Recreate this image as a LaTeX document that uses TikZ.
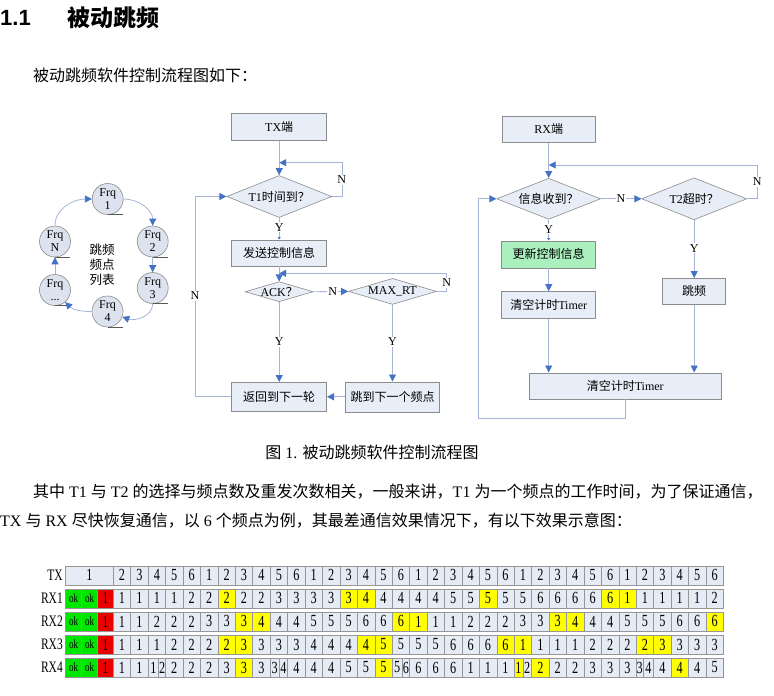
\documentclass[tikz,border=0pt]{standalone}
\usepackage{fontspec}
\setmainfont{Liberation Serif}
\newfontfamily\cjk{Noto Sans CJK SC}
\newfontfamily\headsf{Liberation Sans}
\newfontfamily\tabfont{Liberation Serif}[FakeStretch=0.72]
\usetikzlibrary{arrows.meta, shapes.geometric}

\newcommand{\zh}[1]{{\cjk #1}}

\definecolor{boxfill}{RGB}{232,238,247}
\definecolor{boxline}{RGB}{140,140,140}
\definecolor{flowline}{RGB}{165,180,215}
\definecolor{arrowblue}{RGB}{68,114,196}
\definecolor{updfill}{RGB}{170,240,190}
\definecolor{frqfill}{RGB}{220,227,238}
\definecolor{cellfill}{RGB}{230,236,246}
\definecolor{cellline}{RGB}{150,150,150}
\definecolor{okgreen}{RGB}{0,230,0}
\definecolor{badred}{RGB}{235,0,0}
\definecolor{hityellow}{RGB}{255,255,0}

\tikzset{
  txt/.style={inner sep=0pt, anchor=west},
  box/.style={rectangle, draw=boxline, fill=boxfill, line width=0.6pt, minimum width=95pt, minimum height=27pt, inner sep=0pt},
  decision/.style={diamond, draw=boxline, fill=boxfill, line width=0.6pt, inner sep=0pt},
  frq/.style={circle, draw=boxline, fill=frqfill, line width=0.6pt, minimum size=31pt, inner sep=0pt, align=center, font=\fontsize{12}{13}\selectfont},
  frqshadow/.style={draw=black!65, line width=0.7pt},
  flow/.style={draw=flowline, line width=0.8pt, -{Triangle[length=7pt, width=7pt, color=arrowblue]}},
  smallflow/.style={draw=flowline, line width=0.8pt, -{Triangle[length=2.5pt, width=3pt, color=arrowblue]}},
  yn/.style={fill=white, inner sep=1pt},
  cell/.style={rectangle, draw=cellline, line width=0.5pt, fill=cellfill, minimum width=17.43pt, minimum height=19pt, inner sep=0pt, font=\tabfont\fontsize{17}{17}\selectfont},
  oktag/.style={cell, fill=okgreen, minimum width=15.87pt, font=\tabfont\fontsize{12.5}{12.5}\selectfont},
  rowlbl/.style={anchor=east, inner sep=0pt, font=\tabfont\fontsize{16}{16}\selectfont}
}

\begin{document}
\begin{tikzpicture}[x=1pt, y=1pt, font=\fontsize{12}{14}\selectfont]
  \path[use as bounding box, fill=white] (0,0) rectangle (774,-696);

  % Heading and text:
  \node[txt, font=\headsf\bfseries\fontsize{22}{24}\selectfont] (secnum) at (0,-18) {1.1};
  \node[txt, font=\fontsize{23}{24}\selectfont] (sectitle) at (67,-18) {\zh{\bfseries 被动跳频}};
  \node[txt, font=\fontsize{16}{18}\selectfont] (intro) at (33,-75) {\zh{被动跳频软件控制流程图如下：}};
  \node[inner sep=0pt, font=\fontsize{16}{18}\selectfont] (caption) at (372,-452) {\zh{图} 1. \zh{被动跳频软件控制流程图}};
  \node[txt, font=\fontsize{16}{18}\selectfont] (para1) at (33,-492) {\zh{其中} T1 \zh{与} T2 \zh{的选择与频点数及重发次数相关，一般来讲，}T1 \zh{为一个频点的工作时间，为了保证通信，}};
  \node[txt, font=\fontsize{16}{18}\selectfont] (para2) at (0,-521) {TX \zh{与} RX \zh{尽快恢复通信，以} 6 \zh{个频点为例，其最差通信效果情况下，有以下效果示意图：}};

  % Frequency ring:
  \node[frq] (f1) at (107.7,-199) {Frq\\1};
  \node[frq] (f2) at (152.7,-241.5) {Frq\\2};
  \node[frq] (f3) at (152.7,-288) {Frq\\3};
  \node[frq] (f4) at (107.5,-311.5) {Frq\\4};
  \node[frq] (fdots) at (55,-290) {Frq\\...};
  \node[frq] (fn) at (55,-241.5) {Frq\\N};
  \foreach \f in {f1,f2,f3,f4,fdots,fn}
    \draw[frqshadow] (\f.south) -- ++(15,0);
  \node[align=center, font=\fontsize{12.5}{15}\selectfont] (hoplist) at (102,-265) {\zh{跳频}\\\zh{频点}\\\zh{列表}};
  \draw[flow] (fn.north) to[out=90, in=180] (f1.west);
  \draw[flow] (f1.east) to[out=0, in=90] (f2.north);
  \draw[flow] (f2.south) -- (f3.north);
  \draw[flow] (f3.south) to[out=-90, in=-20] (f4.-20);
  \draw[flow] (f4.west) to[out=180, in=-45] (fdots.-50);
  \draw[flow] (fdots.north) -- (fn.south);

  % TX side:
  \node[box] (tx) at (279.2,-126.7) {TX\zh{端}};
  \node[decision, minimum width=105pt, minimum height=42pt, label=center:{T1\zh{时间到？}}] (t1) at (279.2,-196.5) {};
  \node[box, minimum height=26pt] (send) at (279.2,-252.8) {\zh{发送控制信息}};
  \node[decision, minimum width=68pt, minimum height=20pt, label=center:{ACK\zh{？}}] (ack) at (279.2,-291.7) {};
  \node[decision, minimum width=88pt, minimum height=26pt, label=center:{MAX\_RT}] (maxrt) at (392.5,-291.4) {};
  \node[box, minimum height=29pt] (back) at (279.2,-396.8) {\zh{返回到下一轮}};
  \node[box, minimum width=94pt, minimum height=30pt] (jump) at (392.5,-396.8) {\zh{跳到下一个频点}};

  \coordinate (t1in) at (279.2,-162.7);
  \coordinate (ackin) at (279.2,-273.3);
  \coordinate (txloop) at (195,-396.8);
  \draw[flow] (tx.south) -- (t1.north);
  \draw[flow] (t1.east) -- ++(10,0) |- (t1in);
  \node[yn] (n1) at (341.7,-180) {N};
  \draw[smallflow] (t1.south) -- (send.north);
  \node[yn] (y1) at (279.2,-227.3) {Y};
  \draw[flow] (send.south) -- (ack.north);
  \draw[flow] (ack.east) -- (maxrt.west);
  \node[yn] (n2) at (332.7,-291.7) {N};
  \draw[flow] (maxrt.east) -- ++(10,0) |- (ackin);
  \node[yn] (n3) at (446.7,-282.7) {N};
  \draw[flow] (ack.south) -- (back.north);
  \node[yn] (y2) at (279.2,-341.7) {Y};
  \draw[flow] (maxrt.south) -- (jump.north);
  \node[yn] (y3) at (392.5,-341.7) {Y};
  \draw[flow] (jump.west) -- (back.east);
  \draw[flow] (back.west) -- (txloop) |- (t1.west);
  \node[yn] (n4) at (195,-296) {N};

  % RX side:
  \node[box, minimum width=93pt, minimum height=26pt] (rx) at (548.7,-129.2) {RX\zh{端}};
  \node[decision, minimum width=104pt, minimum height=41pt, label=center:{\zh{信息收到？}}] (recv) at (548.7,-198.8) {};
  \node[decision, minimum width=105pt, minimum height=42pt, label=center:{T2\zh{超时？}}] (t2) at (694.2,-198.8) {};
  \node[box, fill=updfill, minimum width=94pt] (upd) at (548.7,-254.3) {\zh{更新控制信息}};
  \node[box, minimum width=94pt] (clr1) at (548.7,-305) {\zh{清空计时}Timer};
  \node[box, minimum width=63pt, minimum height=26pt] (hop) at (694.2,-291.3) {\zh{跳频}};
  \node[box, minimum width=192pt, minimum height=26pt] (clr2) at (625.2,-385.8) {\zh{清空计时}Timer};

  \coordinate (recvin) at (548.7,-165);
  \coordinate (rxloop) at (478.3,-418);
  \draw[flow] (rx.south) -- (recv.north);
  \draw[flow] (t2.east) -- ++(10.6,0) |- (recvin);
  \node[yn] (n5) at (757.3,-181.7) {N};
  \draw[flow] (recv.east) -- (t2.west);
  \node[yn] (n6) at (621,-198.8) {N};
  \draw[smallflow] (recv.south) -- (upd.north);
  \node[yn] (y4) at (548.7,-229.3) {Y};
  \draw[flow] (upd.south) -- (clr1.north);
  \draw[flow] (t2.south) -- (hop.north);
  \node[yn] (y5) at (694.2,-248.3) {Y};
  \draw[flow] (clr1.south) -- (clr1.south |- clr2.north);
  \draw[flow] (hop.south) -- (hop.south |- clr2.north);
  \draw[flow] (clr2.south) |- (rxloop) |- (recv.west);

  % Table, TX row:
  \node[rowlbl] (lbl0) at (63,-575.3) {TX};
  \node[cell, minimum width=47.6pt] (r0-first) at (89.5,-575.3) {1};
  \foreach \k in {1,...,35} {
    \pgfmathtruncatemacro\tx{mod(\k,6)+1}
    \node[cell] (r0-c\k) at ({113.3+17.43*(\k-0.5)},-575.3) {\tx};
  }

  % RX rows: labels and first cells
  \foreach \r in {1,...,4} {
    \pgfmathsetmacro\ry{575.3+23.05*\r}
    \node[rowlbl] (lbl\r) at (63,-\ry) {RX\r};
    \node[oktag] (r\r-ok1) at (73.6,-\ry) {ok};
    \node[oktag] (r\r-ok2) at (89.5,-\ry) {ok};
    \node[oktag, fill=badred, font=\tabfont\fontsize{17}{17}\selectfont] (r\r-bad) at (105.4,-\ry) {1};
  }

  % RX1 to RX3, yellow where RX = TX
  \foreach \vals [count=\r] in {{1,1,1,1,2,2,2,2,2,3,3,3,3,3,4,4,4,4,4,5,5,5,5,5,6,6,6,6,6,1,1,1,1,1,2},
                                {1,1,2,2,2,3,3,3,4,4,4,5,5,5,6,6,6,1,1,1,2,2,2,3,3,3,4,4,4,5,5,5,6,6,6},
                                {1,1,1,2,2,2,2,3,3,3,3,4,4,4,4,5,5,5,5,6,6,6,6,1,1,1,1,2,2,2,2,3,3,3,3}} {
    \pgfmathsetmacro\ry{575.3+23.05*\r}
    \foreach \v [count=\k] in \vals {
      \pgfmathtruncatemacro\tx{mod(\k,6)+1}
      \ifnum\v=\tx \def\cc{hityellow}\else\def\cc{cellfill}\fi
      \node[cell, fill=\cc] (r\r-c\k) at ({113.3+17.43*(\k-0.5)},-\ry) {\v};
    }
  }

  % RX4 with split cells
  \foreach \a/\b/\v/\c [count=\i] in {0/1/1/cellfill, 1/2/1/cellfill, 2/2.6/1/cellfill, 2.6/3/2/cellfill,
      3/4/2/cellfill, 4/5/2/cellfill, 5/6/2/cellfill, 6/7/3/cellfill, 7/8/3/hityellow, 8/9/3/cellfill,
      9/9.52/3/cellfill, 9.52/10/4/cellfill, 10/11/4/cellfill, 11/12/4/cellfill, 12/13/4/cellfill,
      13/14/5/cellfill, 14/15/5/cellfill, 15/16/5/hityellow, 16/16.58/5/cellfill, 16.58/17/6/cellfill,
      17/18/6/cellfill, 18/19/6/cellfill, 19/20/6/cellfill, 20/21/1/cellfill, 21/22/1/cellfill,
      22/23/1/cellfill, 23/23.5/1/hityellow, 23.5/24/2/cellfill, 24/25/2/hityellow, 25/26/2/cellfill,
      26/27/2/cellfill, 27/28/3/cellfill, 28/29/3/cellfill, 29/30/3/cellfill, 30/30.4/3/cellfill,
      30.4/31/4/cellfill, 31/32/4/cellfill, 32/33/4/hityellow, 33/34/4/cellfill, 34/35/5/cellfill} {
    \pgfmathsetmacro\w{17.43*(\b-\a)}
    \node[cell, fill=\c, minimum width=\w pt] (r4-s\i) at ({113.3+17.43*(\a+\b)/2},-667.5) {\v};
  }
\end{tikzpicture}
\end{document}
